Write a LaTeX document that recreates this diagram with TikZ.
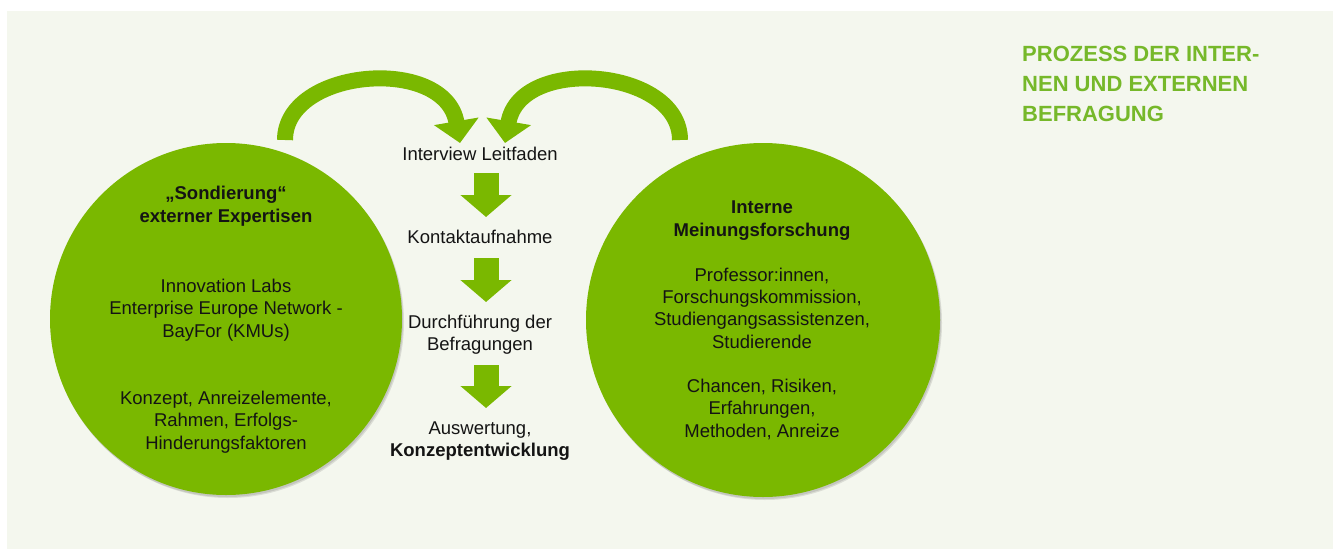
\documentclass[tikz,border=0pt]{standalone}
\usepackage{fontspec}
\setmainfont{Liberation Sans}
\usetikzlibrary{arrows.meta,calc}
\definecolor{bg}{RGB}{244,247,238}
\definecolor{circgreen}{RGB}{122,184,0}
\definecolor{titlegreen}{RGB}{118,184,42}
\definecolor{txt}{RGB}{20,20,20}
\begin{document}
\begin{tikzpicture}[x=1pt,y=-1pt,
  bubble/.style={circle, fill=circgreen, inner sep=0pt, minimum size=#1},
  lbl/.style={font=\fontsize{18.5}{22.2}\selectfont, align=center, anchor=base, inner sep=0pt, text=txt},
  downarrow/.style={line width=25pt, draw=circgreen, -{Triangle[width=50pt,length=22pt]}},
  curvearrow/.style={line width=16pt, draw=circgreen, -{Triangle[width=44pt,length=22pt]}},
  shade/.style={fill=black, opacity=0.10}
]
\useasboundingbox (0,0) rectangle (1333,549);
\fill[white] (0,0) rectangle (1333,549);
\fill[bg] (7,11) rectangle (1333,549);

% shadows
\fill[shade] (228,322) circle (176pt);
\fill[shade] (227,321) circle (176pt);
\fill[shade] (765,323) circle (177pt);
\fill[shade] (764,322) circle (177pt);

% circles
\node[bubble=352pt] (left) at (226,319) {};
\node[bubble=354pt] (right) at (763,320) {};

% down arrows
\coordinate (d1a) at (486,173); \coordinate (d1b) at (486,217);
\coordinate (d2a) at (486,258); \coordinate (d2b) at (486,302);
\coordinate (d3a) at (486,365); \coordinate (d3b) at (486,408);
\draw[downarrow] (d1a) -- (d1b);
\draw[downarrow] (d2a) -- (d2b);
\draw[downarrow] (d3a) -- (d3b);

% curved arrows
\coordinate (la0) at (285,140); \coordinate (la1) at (460,143);
\coordinate (ra0) at (680,140); \coordinate (ra1) at (505,143);
\draw[curvearrow] (la0) .. controls +(0,-72) and +(-15,-88) .. (la1);
\draw[curvearrow] (ra0) .. controls +(0,-72) and +(15,-88) .. (ra1);

% left circle text (anchor = baseline of last line)
\node[lbl, font=\bfseries\fontsize{18.5}{22.2}\selectfont] (lhead) at (226,222) {„Sondierung“\\externer Expertisen};
\node[lbl] (lmid) at (226,337) {Innovation Labs\\Enterprise Europe Network -\\BayFor (KMUs)};
\node[lbl] (lbot) at (226,449) {Konzept, Anreizelemente,\\Rahmen, Erfolgs-\\Hinderungsfaktoren};

% right circle text
\node[lbl, font=\bfseries\fontsize{18.5}{22.2}\selectfont] (rhead) at (762,236) {Interne\\Meinungsforschung};
\node[lbl] (rmid) at (762,348) {Professor:innen,\\Forschungskommission,\\Studiengangsassistenzen,\\Studierende};
\node[lbl] (rbot) at (762,437) {Chancen, Risiken,\\Erfahrungen,\\Methoden, Anreize};

% middle column
\node[lbl] (leit) at (480,160) {Interview Leitfaden};
\node[lbl] (kontakt) at (480,243.3) {Kontaktaufnahme};
\node[lbl] (durch) at (480,350.7) {Durchführung der\\Befragungen};
\node[lbl] (ausw) at (480,456.7) {Auswertung,\\\textbf{Konzeptentwicklung}};

% title
\node[anchor=north west, inner sep=0pt, align=left, text=titlegreen, font=\bfseries\fontsize{22}{30}\selectfont] (title) at (1022,46.3) {PROZESS DER INTER-\\NEN UND EXTERNEN\\BEFRAGUNG};
\end{tikzpicture}
\end{document}
